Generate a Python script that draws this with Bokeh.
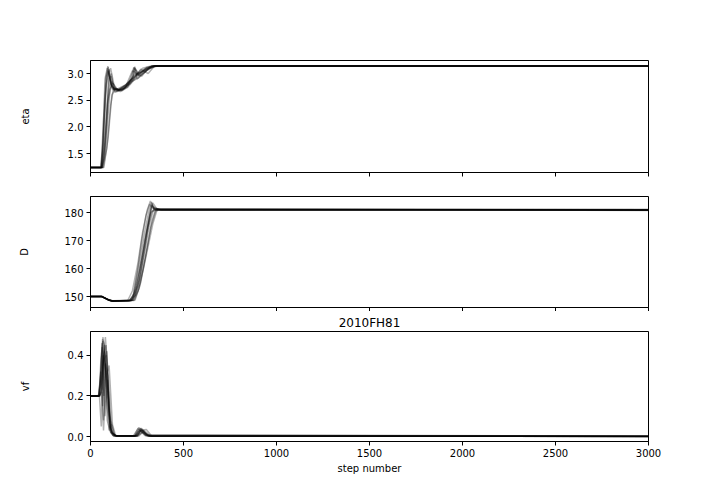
from bokeh.plotting import figure
from bokeh.layouts import column
from bokeh.models import FixedTicker, Range1d
from bokeh.embed import file_html
from bokeh.resources import INLINE

FONT = "DejaVu Sans"

# ---------------- data ----------------
x_ticks = [0, 500, 1000, 1500, 2000, 2500, 3000]
x_tick_labels = ["0", "500", "1000", "1500", "2000", "2500", "3000"]

eta_ticks = [1.5, 2.0, 2.5, 3.0]
eta_tick_labels = ["1.5", "2.0", "2.5", "3.0"]
D_ticks = [150, 160, 170, 180]
D_tick_labels = ["150", "160", "170", "180"]
vf_ticks = [0.0, 0.2, 0.4]
vf_tick_labels = ["0.0", "0.2", "0.4"]

title_text = "2010FH81"
x_label = "step number"
y_labels = ["eta", "D", "vf"]

# walker traces: (steps, values)
eta_steps = [
    [0, 55, 65, 80, 95, 105, 120, 150, 190, 230, 240, 260, 300, 340, 3000],
    [0, 58, 70, 85, 100, 115, 140, 180, 220, 260, 300, 330, 3000],
    [0, 60, 75, 90, 110, 130, 160, 200, 235, 250, 280, 320, 350, 3000],
    [0, 62, 80, 100, 112, 125, 170, 210, 245, 270, 310, 345, 3000],
    [0, 57, 68, 82, 93, 110, 135, 175, 215, 255, 290, 335, 3000],
    [0, 65, 85, 105, 120, 150, 190, 225, 265, 300, 355, 3000],
    [0, 60, 72, 88, 98, 108, 130, 165, 205, 240, 275, 315, 340, 3000],
    [0, 63, 78, 95, 115, 140, 185, 230, 280, 325, 3000],
    [0, 68, 88, 108, 125, 160, 200, 240, 270, 300, 345, 3000],
    [0, 56, 66, 78, 90, 100, 118, 150, 195, 228, 238, 250, 290, 330, 3000],
    [0, 72, 95, 115, 135, 170, 215, 250, 285, 320, 360, 3000],
    [0, 60, 74, 86, 96, 112, 145, 185, 222, 232, 262, 305, 338, 3000],
]
eta_values = [
    [1.24, 1.24, 1.5, 2.6, 3.12, 2.9, 2.72, 2.70, 2.78, 2.95, 3.10, 2.95, 3.05, 3.14, 3.14],
    [1.24, 1.24, 1.7, 2.8, 3.08, 2.75, 2.68, 2.72, 2.85, 2.92, 3.05, 3.142, 3.142],
    [1.24, 1.24, 1.6, 2.4, 2.95, 2.65, 2.68, 2.75, 3.12, 2.9, 3.0, 3.1, 3.138, 3.138],
    [1.24, 1.24, 1.9, 2.9, 3.0, 2.7, 2.70, 2.8, 2.95, 3.08, 3.0, 3.144, 3.144],
    [1.24, 1.24, 2.0, 2.9, 3.14, 2.8, 2.66, 2.74, 2.85, 3.0, 3.08, 3.141, 3.141],
    [1.24, 1.24, 1.8, 2.7, 2.82, 2.68, 2.76, 3.05, 2.98, 3.1, 3.14, 3.14],
    [1.24, 1.24, 1.4, 2.2, 3.0, 3.1, 2.72, 2.68, 2.80, 3.0, 2.95, 3.12, 3.143, 3.143],
    [1.24, 1.24, 1.5, 2.5, 2.85, 2.7, 2.78, 2.92, 3.1, 3.139, 3.139],
    [1.24, 1.24, 1.6, 2.4, 2.75, 2.66, 2.74, 2.9, 3.02, 3.08, 3.14, 3.14],
    [1.24, 1.24, 1.7, 2.9, 3.1, 2.95, 2.7, 2.69, 2.80, 2.92, 3.13, 2.96, 3.06, 3.14, 3.14],
    [1.24, 1.24, 1.8, 2.6, 2.72, 2.68, 2.82, 3.0, 3.04, 3.1, 3.14, 3.14],
    [1.24, 1.24, 2.2, 2.95, 3.05, 2.78, 2.67, 2.73, 2.9, 3.11, 3.0, 3.12, 3.141, 3.141],
]

D_steps = [
    [0, 60, 90, 115, 210, 235, 265, 290, 315, 335, 360, 3000],
    [0, 62, 95, 120, 220, 245, 275, 300, 325, 345, 3000],
    [0, 58, 88, 112, 200, 225, 255, 280, 305, 322, 340, 3000],
    [0, 65, 100, 125, 230, 255, 285, 310, 335, 360, 380, 3000],
    [0, 60, 92, 118, 215, 240, 270, 295, 318, 330, 350, 3000],
    [0, 63, 95, 120, 225, 250, 280, 305, 330, 355, 3000],
    [0, 60, 90, 115, 205, 228, 260, 288, 312, 328, 345, 3000],
    [0, 62, 98, 122, 235, 262, 295, 325, 350, 370, 3000],
    [0, 61, 94, 118, 218, 240, 262, 285, 308, 328, 350, 3000],
    [0, 64, 97, 121, 240, 270, 300, 330, 352, 372, 3000],
    [0, 59, 89, 113, 212, 232, 252, 275, 298, 318, 340, 3000],
    [0, 63, 96, 119, 228, 258, 290, 318, 342, 365, 3000],
]
D_values = [
    [150, 150, 149, 148.4, 148.5, 151, 160, 170, 178, 183.5, 181, 181.0],
    [150, 150, 148.8, 148.3, 148.6, 153, 163, 172, 180, 181.2, 181.1],
    [150, 150, 149.2, 148.5, 148.6, 152, 162, 173, 181, 184.2, 181.5, 180.9],
    [150, 150, 148.7, 148.4, 148.7, 152, 160, 168, 176, 181.5, 181, 181.0],
    [150, 150, 149, 148.4, 148.5, 150.5, 158, 168, 179, 182.8, 181.3, 180.8],
    [150, 150, 148.9, 148.5, 148.8, 154, 165, 174, 180.5, 181.0, 181.2],
    [150, 150, 149.1, 148.3, 148.4, 150, 161, 172, 180, 183.8, 181, 180.9],
    [150, 150, 148.8, 148.4, 148.6, 153, 164, 175, 180.5, 181.1, 181.0],
    [150, 150, 148.9, 148.4, 148.5, 150.5, 156, 166, 176, 182.5, 181, 181.1],
    [150, 150, 148.7, 148.3, 148.8, 155, 166, 177, 181.5, 181.0, 180.9],
    [150, 150, 149.1, 148.5, 148.6, 151, 159, 170, 179, 183.0, 181.2, 181.0],
    [150, 150, 148.8, 148.4, 148.7, 154, 166, 176, 182, 181.2, 181.1],
]

vf_steps = [
    [0, 45, 55, 65, 75, 90, 105, 120, 150, 240, 265, 290, 320, 3000],
    [0, 48, 58, 68, 80, 95, 110, 130, 230, 260, 280, 310, 3000],
    [0, 42, 52, 62, 72, 85, 100, 115, 140, 250, 270, 300, 330, 3000],
    [0, 50, 60, 70, 85, 100, 118, 135, 245, 275, 300, 3000],
    [0, 46, 56, 66, 78, 92, 108, 125, 235, 255, 285, 315, 3000],
    [0, 44, 54, 64, 76, 88, 100, 112, 128, 260, 285, 305, 3000],
    [0, 50, 62, 74, 86, 96, 110, 140, 240, 262, 290, 320, 3000],
    [0, 47, 57, 68, 82, 94, 105, 120, 250, 280, 300, 3000],
    [0, 43, 53, 63, 70, 80, 92, 104, 118, 140, 255, 275, 295, 325, 3000],
    [0, 49, 60, 72, 84, 98, 112, 130, 245, 268, 292, 3000],
    [0, 45, 55, 65, 75, 88, 102, 116, 135, 250, 272, 298, 3000],
    [0, 47, 58, 67, 79, 90, 104, 125, 238, 258, 283, 312, 3000],
]
vf_values = [
    [0.2, 0.2, 0.30, 0.48, 0.45, 0.25, 0.05, 0.01, 0.002, 0.003, 0.04, 0.02, 0.002, 0.001],
    [0.2, 0.2, 0.05, 0.35, 0.49, 0.30, 0.08, 0.005, 0.004, 0.045, 0.03, 0.003, 0.002],
    [0.2, 0.2, 0.25, 0.46, 0.20, 0.40, 0.15, 0.02, 0.003, 0.002, 0.03, 0.035, 0.002, 0.001],
    [0.2, 0.2, 0.22, 0.03, 0.30, 0.35, 0.06, 0.004, 0.005, 0.025, 0.01, 0.002],
    [0.2, 0.2, 0.38, 0.47, 0.10, 0.28, 0.02, 0.003, 0.002, 0.04, 0.015, 0.002, 0.001],
    [0.2, 0.2, 0.21, 0.33, 0.42, 0.18, 0.03, 0.06, 0.004, 0.003, 0.028, 0.005, 0.002],
    [0.2, 0.2, 0.24, 0.45, 0.26, 0.12, 0.02, 0.003, 0.003, 0.035, 0.02, 0.002, 0.001],
    [0.2, 0.2, 0.27, 0.40, 0.32, 0.22, 0.04, 0.005, 0.004, 0.02, 0.004, 0.002],
    [0.2, 0.2, 0.28, 0.44, 0.08, 0.36, 0.30, 0.05, 0.02, 0.003, 0.003, 0.038, 0.025, 0.002, 0.001],
    [0.2, 0.2, 0.23, 0.41, 0.45, 0.15, 0.03, 0.004, 0.004, 0.03, 0.006, 0.002],
    [0.2, 0.2, 0.32, 0.15, 0.38, 0.42, 0.10, 0.02, 0.003, 0.003, 0.042, 0.004, 0.001],
    [0.2, 0.2, 0.26, 0.49, 0.34, 0.08, 0.03, 0.003, 0.003, 0.025, 0.03, 0.003, 0.002],
]


def make_fig(height, top, bottom, yrange, yticks, ylabels, ylabel, standoff, bottom_axis):
    p = figure(width=720, height=height,
               x_range=Range1d(0, 3000), y_range=Range1d(*yrange),
               output_backend="svg", toolbar_location=None,
               min_border_left=90, min_border_right=72,
               min_border_top=top, min_border_bottom=bottom,
               background_fill_color="white", border_fill_color="white")
    p.grid.visible = False
    p.outline_line_color = "black"
    p.outline_line_width = 1
    p.outline_line_alpha = 1

    for ax in (p.xaxis[0], p.yaxis[0]):
        ax.axis_line_color = "black"
        ax.axis_line_width = 1
        ax.major_tick_line_color = "black"
        ax.major_tick_line_width = 1
        ax.major_tick_in = 0
        ax.major_tick_out = 4
        ax.minor_tick_line_color = None
        ax.major_label_text_font = FONT
        ax.major_label_text_font_size = "10px"
        ax.major_label_text_color = "black"
        ax.axis_label_text_font = FONT
        ax.axis_label_text_font_size = "10px"
        ax.axis_label_text_font_style = "normal"
        ax.axis_label_text_color = "black"
        ax.major_label_standoff = 3

    p.yaxis.ticker = FixedTicker(ticks=yticks)
    p.yaxis.major_label_overrides = {t: l for t, l in zip(yticks, ylabels)}
    p.yaxis.axis_label = ylabel
    p.yaxis.axis_label_standoff = standoff

    if bottom_axis:
        p.xaxis.ticker = FixedTicker(ticks=x_ticks)
        p.xaxis.major_label_overrides = {t: l for t, l in zip(x_ticks, x_tick_labels)}
        p.xaxis.axis_label = x_label
        p.xaxis.axis_label_standoff = 3
    else:
        # unlabeled ticks (shared x axis): drawn as minor ticks so no labels exist
        p.xaxis.ticker = FixedTicker(ticks=[], minor_ticks=x_ticks)
        p.xaxis.minor_tick_line_color = "black"
        p.xaxis.minor_tick_line_width = 1
        p.xaxis.minor_tick_in = 0
        p.xaxis.minor_tick_out = 4
    return p


p1 = make_fig(184, 60, 12, (1.144, 3.244), eta_ticks, eta_tick_labels, y_labels[0], 34, False)
p2 = make_fig(127, 12, 4, (146.1, 185.8), D_ticks, D_tick_labels, y_labels[1], 31, False)
p3 = make_fig(193, 18, 63, (-0.024, 0.517), vf_ticks, vf_tick_labels, y_labels[2], 34, True)

p3.title.text = title_text
p3.title.align = "center"
p3.title.text_font = FONT
p3.title.text_font_size = "12px"
p3.title.text_font_style = "normal"
p3.title.text_color = "black"
p3.title.standoff = 4

for p, xs, ys in ((p1, eta_steps, eta_values), (p2, D_steps, D_values), (p3, vf_steps, vf_values)):
    p.multi_line(xs=xs, ys=ys, line_color="black", line_alpha=0.3, line_width=1.5)

layout = column(p1, p2, p3, spacing=0)

with open("out.html", "w") as f:
    f.write(file_html(layout, INLINE))
